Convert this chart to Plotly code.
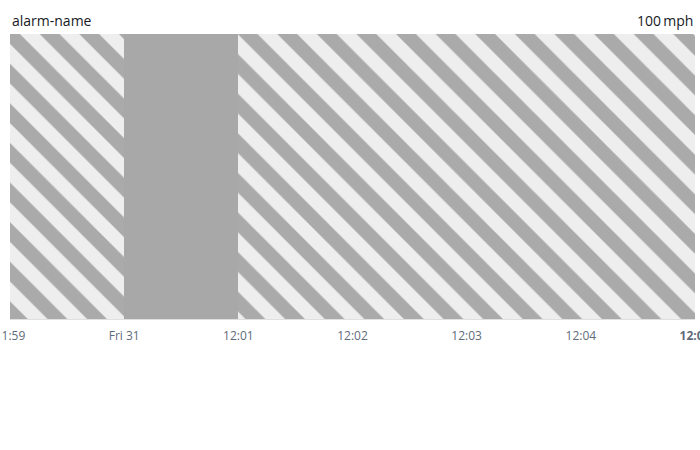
import plotly.graph_objects as go
import pandas as pd

# Alarm state segments
seg_start = ["2021-12-30 23:59:00", "2021-12-31 00:00:00", "2021-12-31 00:01:00"]
seg_end = ["2021-12-31 00:00:00", "2021-12-31 00:01:00", "2021-12-31 00:05:00"]
seg_state = ["INSUFFICIENT_DATA", "ALARM", "INSUFFICIENT_DATA"]

tick_vals = ["2021-12-30 23:59:00", "2021-12-31 00:00:00", "2021-12-31 00:01:00",
             "2021-12-31 00:02:00", "2021-12-31 00:03:00", "2021-12-31 00:04:00",
             "2021-12-31 00:05:00"]
tick_text = ["11:59", "Fri 31", "12:01", "12:02", "12:03", "12:04", "<b>12:05</b>"]

title_text = "alarm-name"
threshold_text = "100\u2009mph"

starts = pd.to_datetime(seg_start)
ends = pd.to_datetime(seg_end)
widths = [(e - s).total_seconds() * 1000 for s, e in zip(starts, ends)]

fig = go.Figure()
for s, w, st in zip(starts, widths, seg_state):
    if st == "INSUFFICIENT_DATA":
        marker = dict(color="#eeeeee", line=dict(width=0),
                      pattern=dict(shape="\\", fgcolor="#aaaaaa", bgcolor="#eeeeee",
                                   size=28, solidity=0.5, fillmode="replace"))
    else:
        marker = dict(color="#a8a8a8", line=dict(width=0))
    fig.add_trace(go.Bar(x=[s], y=[1], width=[w], offset=0, marker=marker,
                         showlegend=False, name=st, hoverinfo="skip"))

fig.update_layout(
    width=700, height=450,
    margin=dict(l=10, r=5, t=34, b=131, autoexpand=False),
    paper_bgcolor="white", plot_bgcolor="white",
    font=dict(family="Open Sans, Noto Sans, sans-serif"),
    bargap=0,
    xaxis=dict(
        type="date", automargin=False,
        range=[tick_vals[0], tick_vals[-1]],
        tickvals=tick_vals, ticktext=tick_text,
        showgrid=False, zeroline=False,
        showline=True, linecolor="#e0e0e0", linewidth=1,
        ticks="outside", ticklen=6, tickcolor="rgba(0,0,0,0)",
        tickfont=dict(size=12, color="#5f6b7a"),
        ticklabeloverflow="allow",
    ),
    yaxis=dict(range=[0, 1], visible=False, fixedrange=True),
    annotations=[
        dict(text=title_text, xref="paper", yref="paper", x=0, y=1,
             xanchor="left", yanchor="bottom", yshift=2, showarrow=False,
             font=dict(size=14, color="#16191f")),
        dict(text=threshold_text, xref="paper", yref="paper", x=1, y=1,
             xanchor="right", yanchor="bottom", yshift=2, showarrow=False,
             font=dict(size=14, color="#16191f")),
    ],
)

fig.write_html("out.html")
